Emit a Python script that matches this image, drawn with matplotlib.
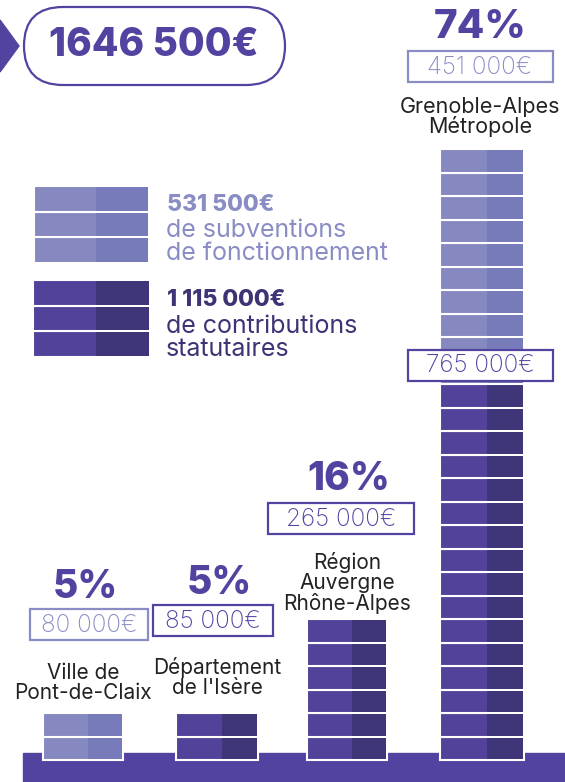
import matplotlib.pyplot as plt
from matplotlib.patches import FancyBboxPatch, Polygon, Rectangle

# funders, left to right
funders = ["Ville de\nPont-de-Claix", "Département\nde l'Isère",
           "Région\nAuvergne\nRhône-Alpes", "Grenoble-Alpes\nMétropole"]
percents = ["5%", "5%", "16%", "74%"]
# bricks per funder (one brick ~ 45 000€)
subv_bricks = [2, 0, 0, 10]
contrib_bricks = [0, 2, 6, 16]
subv_amounts = ["80 000€", None, None, "451 000€"]
contrib_amounts = [None, "85 000€", "265 000€", "765 000€"]
total_label = "1646 500€"
legend_amounts = ["531 500€", "1 115 000€"]
legend_texts = ["de subventions\nde fonctionnement", "de contributions\nstatutaires"]

# colours
LIGHT_L, LIGHT_R = "#8589c0", "#777bba"
DARK_L, DARK_R = "#534299", "#3f367a"
PURPLE = "#5243a0"
LIGHT_TXT = "#8a8dc4"
DARK_TXT = "#3d3475"
INK = "#222222"

W, H = 565, 782
UNIT = 23.5          # brick height in px
BASE = H - 760       # bottom of the bricks
plt.rcParams["font.family"] = ["Inter", "DejaVu Sans"]

fig = plt.figure(figsize=(W / 100, H / 100), dpi=100)
ax = fig.add_axes([0, 0, 1, 1])
ax.set_xlim(0, W)
ax.set_ylim(0, H)
ax.axis("off")


def Y(ypx):
    return H - ypx


def bricks(xc, width, start, n, cl, cr, bottom, unit=UNIT, split=0.56):
    if n == 0:
        return
    ys = [bottom + (start + i) * unit for i in range(n)]
    ax.bar([xc] * n, [unit] * n, bottom=ys, width=width, color=cl,
           edgecolor="white", linewidth=1.5, zorder=3)
    left = xc - width / 2 + width * split
    rw = xc + width / 2 - left - 1
    ax.bar([left] * n, [unit - 2] * n, bottom=[y + 1 for y in ys], width=rw,
           align="edge", color=cr, linewidth=0, zorder=3)


def amount_box(x, y, txt, col, w):
    ax.add_patch(Rectangle((x - w / 2, Y(y) - 15.5), w, 31, fc="white",
                           ec=col, lw=1.6, zorder=5))
    ax.text(x, Y(y) - 1, txt, color=col, ha="center", va="center",
            fontsize=17.5, fontweight="light", zorder=6)


# base strip
ax.add_patch(Rectangle((23, 0), W - 23, Y(753), color=PURPLE, zorder=2))

xcs = [83, 217, 347, 482]
widths = [80, 82, 80, 84]
for i in range(4):
    bricks(xcs[i], widths[i], 0, contrib_bricks[i], DARK_L, DARK_R, BASE)
    bricks(xcs[i], widths[i], contrib_bricks[i], subv_bricks[i], LIGHT_L, LIGHT_R, BASE)

# small funders
pct_y = [587, 583, 479]
box_y = [624, 620, 518]
box_x = [89, 213, 341]
box_w = [118, 120, 146]
lab_y = [683, 677, 583]
for i in range(3):
    ax.text(xcs[i] + 2, Y(pct_y[i]), percents[i], ha="center", va="center",
            fontsize=28, fontweight="heavy", color=PURPLE)
    if subv_amounts[i]:
        amount_box(box_x[i], box_y[i], subv_amounts[i], LIGHT_TXT, box_w[i])
    else:
        amount_box(box_x[i], box_y[i], contrib_amounts[i], PURPLE, box_w[i])
    ax.text(xcs[i], Y(lab_y[i]), funders[i], ha="center", va="center",
            fontsize=15, color=INK, linespacing=1.0)

# Grenoble
ax.text(xcs[3] - 2, Y(28), percents[3], ha="center", va="center",
        fontsize=29, fontweight="heavy", color=PURPLE)
amount_box(480, 66, subv_amounts[3], LIGHT_TXT, 145)
ax.text(xcs[3] - 2, Y(117), funders[3], ha="center", va="center",
        fontsize=15.5, color=INK, linespacing=0.98)
amount_box(480, 365, contrib_amounts[3], PURPLE, 145)

# legend
LU = 25.7
bricks(91, 115, 0, 3, LIGHT_L, LIGHT_R, Y(263), unit=LU, split=0.54)
bricks(91, 117, 0, 3, DARK_L, DARK_R, Y(357), unit=LU, split=0.54)
ax.text(167, Y(205), legend_amounts[0], ha="left", va="center",
        fontsize=16.5, fontweight="heavy", color=LIGHT_TXT)
ax.text(166, Y(242), legend_texts[0], ha="left", va="center",
        fontsize=18, color=LIGHT_TXT, linespacing=0.97)
ax.text(167, Y(300), legend_amounts[1], ha="left", va="center",
        fontsize=16.5, fontweight="heavy", color=DARK_TXT)
ax.text(166, Y(338), legend_texts[1], ha="left", va="center",
        fontsize=18, color=DARK_TXT, linespacing=0.97)

# total
ax.add_patch(Polygon([(0, Y(20)), (19, Y(46)), (0, Y(72))], closed=True,
                     color=PURPLE, zorder=4))
ax.add_patch(FancyBboxPatch((24, Y(85)), 261, 78,
                            boxstyle="round,pad=0,rounding_size=39",
                            fc="white", ec=PURPLE, lw=1.6, zorder=4))
ax.text(154, Y(45), total_label, ha="center", va="center", fontsize=28,
        fontweight="heavy", color=PURPLE, zorder=5)

fig.savefig("out.png", dpi=100)
